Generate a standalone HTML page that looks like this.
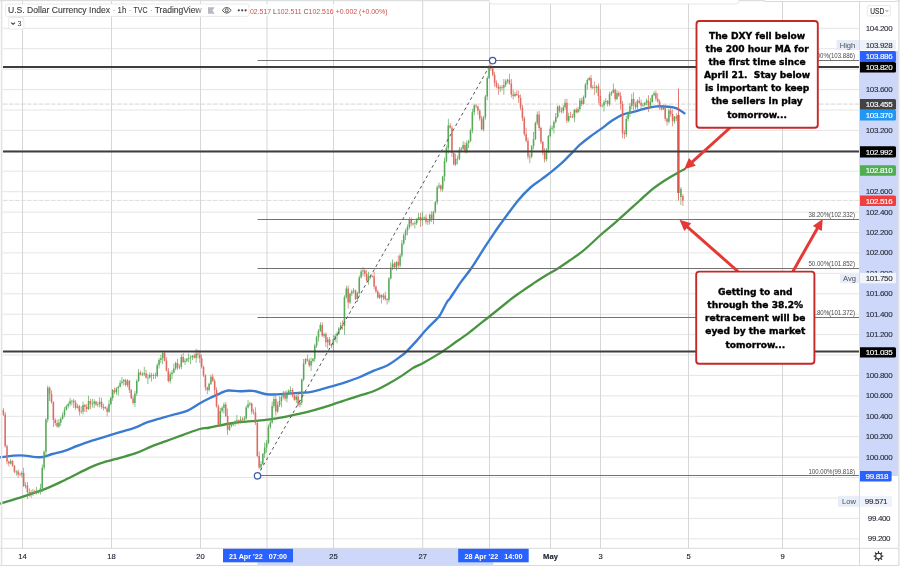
<!DOCTYPE html>
<html><head><meta charset="utf-8"><title>DXY</title>
<style>
html,body{margin:0;padding:0;background:#fff}
body{width:900px;height:569px;overflow:hidden;position:relative;font-family:"Liberation Sans",Arial,sans-serif}
svg{position:absolute;left:0;top:0}
.fl{font:7.2px "Liberation Sans",Arial,sans-serif;fill:#4a4a4a;text-anchor:end}
.an{font:bold 9.1px "DejaVu Sans",Verdana,sans-serif;fill:#000;stroke:#000;stroke-width:0.35px;text-anchor:middle}
.ax{font:8px "Liberation Sans",Arial,sans-serif;letter-spacing:-0.35px;fill:#1e222d;stroke:#1e222d;stroke-width:0.08px;text-anchor:middle}
.axw{font:8px "Liberation Sans",Arial,sans-serif;letter-spacing:-0.35px;fill:#fff;stroke:#fff;stroke-width:0.15px;text-anchor:middle}
.hl{font:7.6px "Liberation Sans",Arial,sans-serif;fill:#4a505c;text-anchor:middle}
.usd{font:8.6px "Liberation Sans",Arial,sans-serif;fill:#333;stroke:#333;stroke-width:0.15px;text-anchor:middle}
.tx{font:7.6px "Liberation Sans",Arial,sans-serif;fill:#1e222d;stroke:#1e222d;stroke-width:0.15px;text-anchor:middle}
.txw{font:bold 7.2px "Liberation Sans",Arial,sans-serif;fill:#fff;text-anchor:middle}
.ohlc{font:7.6px "Liberation Sans",Arial,sans-serif;fill:#cf4f4f}
.ttl{font:9.3px "Liberation Sans",Arial,sans-serif;fill:#3a3a3a;stroke:#3a3a3a;stroke-width:0.12px}
.sep{fill:#9a9a9a;stroke:none}
</style></head><body>
<svg width="900" height="569" viewBox="0 0 900 569">
<defs><linearGradient id="fade" x1="0" x2="1"><stop offset="0" stop-color="#fff" stop-opacity="0"/><stop offset="1" stop-color="#fff" stop-opacity="1"/></linearGradient></defs>
<path d="M3,28.3H860M3,48.7H860M3,69.1H860M3,89.6H860M3,110.0H860M3,130.4H860M3,150.8H860M3,171.2H860M3,191.7H860M3,212.1H860M3,232.5H860M3,252.9H860M3,273.3H860M3,293.8H860M3,314.2H860M3,334.6H860M3,355.0H860M3,375.4H860M3,395.9H860M3,416.3H860M3,436.7H860M3,457.1H860M3,477.5H860M3,498.0H860M3,518.4H860M3,538.8H860" stroke="#e5e5e5" stroke-width="1" fill="none"/>
<path d="M22.5,0V548M111.5,0V548M200.5,0V548M267,0V548M333.5,0V548M422.7,0V548M489.5,0V548M550.5,0V548M600.5,0V548M688.5,0V548M782.5,0V548" stroke="#d6d6d6" stroke-width="1" fill="none"/>
<path d="M3,104.1H860" stroke="#d6d6d6" stroke-width="1" stroke-dasharray="4.5,1.5"/>
<path d="M3,200.4H860" stroke="#dcdcdc" stroke-width="1" stroke-dasharray="4.5,1.5"/>
<path d="M0.0,457.3 C3.3,457.0 13.3,455.4 20.0,455.4 C26.7,455.4 34.6,457.5 40.0,457.3 C45.4,457.1 48.2,455.1 52.3,454.0 C56.4,452.9 60.5,452.1 64.6,450.8 C68.7,449.5 72.8,447.5 76.9,446.0 C81.0,444.5 85.1,443.0 89.2,441.6 C93.3,440.2 96.4,439.5 101.5,437.9 C106.6,436.3 114.3,433.9 120.0,432.2 C125.7,430.4 131.4,429.0 135.8,427.4 C140.2,425.8 141.9,424.3 146.3,422.7 C150.7,421.1 157.7,419.2 162.1,417.9 C166.5,416.6 168.6,415.9 172.7,414.8 C176.8,413.7 181.8,413.0 186.4,411.1 C191.0,409.2 196.1,405.4 200.0,403.2 C203.9,401.0 206.7,399.6 210.0,398.0 C213.3,396.4 217.0,394.8 220.0,393.5 C223.0,392.2 224.7,390.9 228.0,390.5 C231.3,390.1 235.9,391.2 240.0,391.3 C244.1,391.4 248.0,390.4 252.8,390.9 C257.6,391.4 262.8,394.1 269.0,394.5 C275.2,394.9 284.7,393.7 290.0,393.4 C295.3,393.1 297.2,393.1 301.0,392.8 C304.8,392.5 307.5,392.7 312.6,391.6 C317.7,390.5 325.8,388.1 331.6,386.4 C337.4,384.7 342.7,383.2 347.4,381.6 C352.1,380.0 355.6,378.8 360.0,377.0 C364.4,375.2 369.3,372.6 374.0,370.6 C378.7,368.6 383.4,367.6 388.1,365.0 C392.8,362.4 399.1,357.4 402.2,355.2 C405.2,353.0 404.0,354.0 406.4,351.6 C408.8,349.2 413.0,344.7 416.3,341.1 C419.6,337.5 422.8,333.4 426.1,329.8 C429.4,326.2 433.7,322.2 436.0,319.8 C438.3,317.4 438.2,318.2 440.0,315.2 C441.8,312.2 445.3,304.8 447.0,302.0 C448.7,299.2 447.8,301.6 450.0,298.4 C452.2,295.2 457.0,287.6 460.5,282.6 C464.0,277.6 467.0,274.5 471.1,268.5 C475.2,262.5 481.0,252.9 485.1,246.6 C489.2,240.3 492.5,235.5 495.7,230.8 C498.9,226.1 500.7,223.6 504.5,218.5 C508.3,213.4 514.2,205.2 518.5,200.0 C522.8,194.8 526.7,190.9 530.5,187.5 C534.3,184.1 537.6,182.2 541.1,179.6 C544.6,176.9 548.1,174.4 551.6,171.6 C555.1,168.8 558.7,165.9 562.2,162.7 C565.7,159.4 569.7,155.1 572.7,152.1 C575.7,149.1 577.1,147.3 580.0,144.7 C582.9,142.1 586.5,139.3 590.0,136.7 C593.5,134.1 597.4,131.6 601.1,128.9 C604.8,126.2 608.5,123.0 612.2,120.6 C615.9,118.2 619.6,115.9 623.3,114.4 C627.0,112.9 630.7,112.7 634.4,111.7 C638.1,110.7 641.9,109.2 645.6,108.3 C649.3,107.4 653.0,106.7 656.7,106.4 C660.4,106.1 664.5,106.4 667.8,106.7 C671.1,107.0 673.9,107.2 676.7,108.3 C679.5,109.4 683.1,112.5 684.4,113.3" stroke="#3a7bd2" stroke-width="2.4" fill="none" stroke-linecap="round"/>
<path d="M0.0,503.6 C3.8,502.4 15.3,499.1 23.0,496.6 C30.7,494.1 39.1,491.3 46.0,488.6 C52.9,485.9 57.4,483.6 64.6,480.2 C71.8,476.8 83.0,470.8 89.2,467.9 C95.4,465.0 96.4,464.7 101.5,463.0 C106.6,461.3 114.3,459.4 120.0,457.8 C125.7,456.2 130.5,455.1 135.8,453.2 C141.1,451.3 146.3,448.5 151.6,446.4 C156.9,444.3 162.1,442.5 167.4,440.6 C172.7,438.7 177.8,436.7 183.2,434.8 C188.6,432.9 195.5,430.2 200.0,429.0 C204.5,427.8 204.5,428.5 210.0,427.5 C215.5,426.5 225.3,424.1 232.9,423.0 C240.5,421.9 249.5,421.5 255.7,420.9 C261.9,420.3 265.1,420.0 270.0,419.3 C274.9,418.6 280.0,417.7 285.0,416.8 C290.0,415.9 295.0,414.9 300.0,413.7 C305.0,412.5 309.7,411.3 315.0,409.8 C320.3,408.3 326.9,406.3 331.6,404.8 C336.3,403.3 338.7,402.4 343.2,400.9 C347.7,399.4 353.6,397.4 358.7,395.8 C363.8,394.2 369.1,393.0 374.0,391.0 C378.9,389.0 383.3,386.6 388.0,384.0 C392.7,381.4 397.8,378.3 402.0,375.6 C406.2,372.9 409.8,369.9 413.4,367.8 C416.9,365.7 418.9,365.3 423.3,362.9 C427.7,360.4 434.9,356.4 440.0,353.1 C445.1,349.8 449.4,346.6 454.1,343.3 C458.8,340.0 463.4,336.9 468.1,333.4 C472.8,329.9 477.5,325.9 482.2,322.2 C486.9,318.5 491.6,314.8 496.3,311.0 C501.0,307.2 506.4,302.8 510.3,299.7 C514.2,296.6 516.3,295.2 520.0,292.6 C523.7,290.0 528.2,286.9 532.3,284.2 C536.4,281.5 540.3,278.9 544.6,276.2 C548.9,273.5 554.1,270.8 558.2,268.2 C562.3,265.6 565.3,263.5 569.2,260.8 C573.1,258.1 577.8,255.1 581.5,252.2 C585.2,249.3 588.3,246.3 591.4,243.5 C594.5,240.7 596.5,238.6 600.0,235.5 C603.5,232.4 608.0,228.9 612.3,225.2 C616.5,221.5 621.1,217.2 625.5,213.3 C629.9,209.4 634.3,205.4 638.7,201.5 C643.1,197.6 647.5,193.1 651.9,189.6 C656.3,186.1 660.7,183.2 665.1,180.3 C669.5,177.4 675.0,174.3 678.3,172.4 C681.6,170.5 683.8,169.6 684.9,169.0" stroke="#489440" stroke-width="2.3" fill="none" stroke-linecap="round"/>
<path d="M10.37,458.7h0.7V464.4h-0.7zM15.93,470.3h0.7V475.5h-0.7zM21.49,471.2h0.7V477.7h-0.7zM25.20,482.3h0.7V488.5h-0.7zM28.91,488.6h0.7V496.6h-0.7zM32.61,489.1h0.7V495.8h-0.7zM36.32,487.1h0.7V494.6h-0.7zM38.18,490.6h0.7V493.7h-0.7zM40.03,483.7h0.7V494.6h-0.7zM41.88,464.5h0.7V491.9h-0.7zM43.74,450.6h0.7V470.3h-0.7zM45.59,418.0h0.7V455.1h-0.7zM47.45,385.4h0.7V422.5h-0.7zM58.57,419.0h0.7V427.9h-0.7zM60.42,417.2h0.7V426.1h-0.7zM62.28,412.5h0.7V419.7h-0.7zM64.13,406.9h0.7V417.3h-0.7zM65.99,404.8h0.7V410.6h-0.7zM67.84,402.5h0.7V408.6h-0.7zM69.69,397.7h0.7V406.2h-0.7zM71.55,399.8h0.7V405.3h-0.7zM77.11,404.0h0.7V408.6h-0.7zM82.67,401.5h0.7V414.4h-0.7zM88.23,395.7h0.7V409.9h-0.7zM91.94,398.7h0.7V407.5h-0.7zM93.80,399.2h0.7V408.0h-0.7zM97.50,401.7h0.7V407.0h-0.7zM99.36,397.3h0.7V407.6h-0.7zM108.63,400.1h0.7V412.7h-0.7zM110.48,396.8h0.7V405.4h-0.7zM112.34,389.0h0.7V400.7h-0.7zM116.04,387.2h0.7V394.7h-0.7zM117.90,385.5h0.7V395.6h-0.7zM119.75,379.9h0.7V387.6h-0.7zM121.61,377.0h0.7V384.4h-0.7zM123.46,378.9h0.7V385.5h-0.7zM127.17,378.9h0.7V387.2h-0.7zM134.58,391.0h0.7V406.9h-0.7zM136.44,379.2h0.7V396.1h-0.7zM138.29,369.1h0.7V381.9h-0.7zM142.00,372.3h0.7V376.3h-0.7zM143.85,366.8h0.7V375.9h-0.7zM147.56,374.0h0.7V384.0h-0.7zM149.42,372.5h0.7V378.8h-0.7zM151.27,372.8h0.7V381.5h-0.7zM156.83,363.2h0.7V377.2h-0.7zM158.69,358.1h0.7V368.6h-0.7zM160.54,354.7h0.7V363.3h-0.7zM162.39,351.6h0.7V364.2h-0.7zM169.81,372.0h0.7V383.5h-0.7zM171.66,369.9h0.7V379.2h-0.7zM173.52,363.6h0.7V373.4h-0.7zM175.37,361.4h0.7V370.2h-0.7zM179.08,364.3h0.7V369.3h-0.7zM180.93,354.4h0.7V369.2h-0.7zM184.64,358.3h0.7V364.9h-0.7zM186.50,357.9h0.7V362.3h-0.7zM188.35,353.6h0.7V362.3h-0.7zM190.20,355.3h0.7V364.3h-0.7zM192.06,355.0h0.7V360.0h-0.7zM195.77,348.8h0.7V362.8h-0.7zM208.74,382.8h0.7V391.5h-0.7zM210.60,374.8h0.7V385.1h-0.7zM219.87,407.9h0.7V426.3h-0.7zM221.72,406.3h0.7V413.0h-0.7zM223.58,402.4h0.7V413.6h-0.7zM229.14,423.8h0.7V430.9h-0.7zM230.99,423.2h0.7V427.6h-0.7zM232.85,422.2h0.7V426.0h-0.7zM234.70,420.3h0.7V426.2h-0.7zM236.55,415.0h0.7V424.2h-0.7zM240.26,416.2h0.7V423.6h-0.7zM243.97,415.9h0.7V421.5h-0.7zM245.82,405.5h0.7V419.6h-0.7zM247.68,400.1h0.7V408.4h-0.7zM249.53,401.7h0.7V406.3h-0.7zM260.66,461.1h0.7V470.0h-0.7zM262.51,453.0h0.7V464.8h-0.7zM264.36,442.6h0.7V458.1h-0.7zM266.22,440.1h0.7V452.6h-0.7zM268.07,424.5h0.7V444.2h-0.7zM269.93,420.6h0.7V428.8h-0.7zM271.78,401.6h0.7V423.8h-0.7zM273.63,394.6h0.7V408.2h-0.7zM277.34,401.4h0.7V413.0h-0.7zM279.20,396.2h0.7V407.0h-0.7zM281.05,395.4h0.7V407.2h-0.7zM282.90,390.7h0.7V399.2h-0.7zM286.61,390.2h0.7V402.3h-0.7zM288.47,389.3h0.7V394.9h-0.7zM290.32,386.2h0.7V392.1h-0.7zM295.88,394.8h0.7V403.0h-0.7zM299.59,399.6h0.7V407.3h-0.7zM301.44,378.5h0.7V405.0h-0.7zM303.30,358.9h0.7V381.2h-0.7zM305.15,358.1h0.7V364.6h-0.7zM310.71,357.5h0.7V371.1h-0.7zM312.57,357.9h0.7V362.4h-0.7zM314.42,343.7h0.7V361.7h-0.7zM316.28,335.7h0.7V348.1h-0.7zM318.13,329.1h0.7V341.7h-0.7zM319.98,322.6h0.7V331.9h-0.7zM323.69,332.4h0.7V338.1h-0.7zM327.40,337.0h0.7V348.8h-0.7zM332.96,335.1h0.7V350.9h-0.7zM334.82,333.8h0.7V341.6h-0.7zM336.67,331.4h0.7V343.2h-0.7zM338.52,327.3h0.7V335.1h-0.7zM340.38,322.2h0.7V330.2h-0.7zM344.09,295.3h0.7V335.1h-0.7zM345.94,285.8h0.7V298.7h-0.7zM349.65,292.7h0.7V304.0h-0.7zM351.50,289.5h0.7V296.3h-0.7zM353.36,288.0h0.7V293.8h-0.7zM357.06,291.8h0.7V301.9h-0.7zM358.92,275.4h0.7V294.2h-0.7zM360.77,269.3h0.7V278.6h-0.7zM362.63,267.0h0.7V275.9h-0.7zM368.19,271.7h0.7V284.8h-0.7zM370.04,274.4h0.7V279.2h-0.7zM379.31,292.7h0.7V299.1h-0.7zM383.02,293.6h0.7V300.1h-0.7zM388.58,277.0h0.7V302.4h-0.7zM390.44,262.5h0.7V279.5h-0.7zM392.29,259.6h0.7V269.9h-0.7zM396.00,261.0h0.7V270.8h-0.7zM399.71,253.4h0.7V267.5h-0.7zM401.56,240.1h0.7V257.6h-0.7zM403.41,233.2h0.7V244.9h-0.7zM405.27,228.8h0.7V239.9h-0.7zM407.12,224.4h0.7V235.3h-0.7zM408.98,216.9h0.7V229.2h-0.7zM414.54,221.1h0.7V228.4h-0.7zM416.39,218.1h0.7V224.9h-0.7zM418.25,213.1h0.7V220.3h-0.7zM421.95,211.7h0.7V225.7h-0.7zM423.81,216.5h0.7V219.6h-0.7zM427.52,219.7h0.7V225.1h-0.7zM429.37,213.6h0.7V224.5h-0.7zM433.08,210.9h0.7V224.3h-0.7zM434.93,200.9h0.7V213.6h-0.7zM436.79,185.5h0.7V204.8h-0.7zM438.64,182.6h0.7V189.1h-0.7zM442.35,175.8h0.7V191.8h-0.7zM444.20,157.4h0.7V181.5h-0.7zM446.06,145.4h0.7V162.8h-0.7zM447.91,118.8h0.7V153.4h-0.7zM455.33,153.7h0.7V166.0h-0.7zM459.03,147.1h0.7V160.2h-0.7zM460.89,146.8h0.7V151.7h-0.7zM462.74,141.2h0.7V150.1h-0.7zM466.45,140.6h0.7V153.6h-0.7zM468.30,139.8h0.7V148.1h-0.7zM470.16,128.7h0.7V142.1h-0.7zM472.01,108.7h0.7V133.2h-0.7zM473.87,104.3h0.7V115.3h-0.7zM483.14,115.9h0.7V131.6h-0.7zM484.99,95.1h0.7V119.6h-0.7zM486.84,76.2h0.7V100.2h-0.7zM488.70,64.9h0.7V79.1h-0.7zM499.82,85.3h0.7V92.0h-0.7zM503.53,79.0h0.7V94.7h-0.7zM505.38,79.3h0.7V87.1h-0.7zM507.24,78.7h0.7V83.6h-0.7zM514.65,91.8h0.7V97.1h-0.7zM529.49,153.6h0.7V163.3h-0.7zM531.34,145.0h0.7V158.5h-0.7zM533.19,132.0h0.7V149.3h-0.7zM535.05,121.4h0.7V139.9h-0.7zM536.90,111.6h0.7V124.9h-0.7zM546.17,148.2h0.7V161.4h-0.7zM548.03,134.9h0.7V152.9h-0.7zM549.88,125.5h0.7V137.2h-0.7zM551.73,125.6h0.7V130.7h-0.7zM553.59,120.3h0.7V133.6h-0.7zM555.44,113.1h0.7V123.5h-0.7zM557.30,105.5h0.7V118.3h-0.7zM561.00,107.6h0.7V113.5h-0.7zM562.86,105.1h0.7V113.2h-0.7zM564.71,99.1h0.7V109.7h-0.7zM568.42,112.7h0.7V122.4h-0.7zM573.98,108.8h0.7V122.3h-0.7zM577.69,107.0h0.7V113.3h-0.7zM579.54,98.1h0.7V111.6h-0.7zM583.25,95.5h0.7V104.8h-0.7zM585.11,83.0h0.7V98.5h-0.7zM586.96,78.6h0.7V89.4h-0.7zM588.81,76.5h0.7V80.7h-0.7zM592.52,85.1h0.7V89.0h-0.7zM596.23,85.3h0.7V93.0h-0.7zM601.79,103.4h0.7V107.4h-0.7zM603.65,100.0h0.7V111.6h-0.7zM605.50,98.1h0.7V103.8h-0.7zM609.21,91.6h0.7V106.3h-0.7zM611.06,91.1h0.7V96.0h-0.7zM612.92,83.5h0.7V93.3h-0.7zM616.62,90.2h0.7V99.9h-0.7zM625.89,116.1h0.7V137.0h-0.7zM627.75,111.6h0.7V121.6h-0.7zM629.60,103.0h0.7V116.9h-0.7zM631.46,93.8h0.7V109.1h-0.7zM637.02,99.3h0.7V109.8h-0.7zM642.58,102.7h0.7V106.7h-0.7zM644.43,101.9h0.7V106.5h-0.7zM646.29,98.8h0.7V105.2h-0.7zM650.00,98.1h0.7V108.4h-0.7zM651.85,94.3h0.7V102.9h-0.7zM653.70,91.2h0.7V96.3h-0.7zM662.97,104.4h0.7V110.1h-0.7zM668.54,108.4h0.7V123.5h-0.7zM674.10,116.0h0.7V123.4h-0.7zM680.55,187.0h0.7V205.0h-0.7zM9.92,461.0h1.6V463.6h-1.6zM15.48,471.5h1.6V472.3h-1.6zM21.04,473.0h1.6V474.5h-1.6zM24.75,485.4h1.6V486.2h-1.6zM28.46,491.9h1.6V492.7h-1.6zM32.16,491.7h1.6V493.8h-1.6zM35.87,491.5h1.6V492.3h-1.6zM37.73,491.5h1.6V492.3h-1.6zM39.58,488.5h1.6V491.5h-1.6zM41.43,467.8h1.6V488.5h-1.6zM43.29,451.7h1.6V467.8h-1.6zM45.14,419.5h1.6V451.7h-1.6zM47.00,387.7h1.6V419.5h-1.6zM58.12,422.6h1.6V426.6h-1.6zM59.97,418.8h1.6V422.6h-1.6zM61.83,415.2h1.6V418.8h-1.6zM63.68,409.7h1.6V415.2h-1.6zM65.54,406.1h1.6V409.7h-1.6zM67.39,403.9h1.6V406.1h-1.6zM69.24,401.0h1.6V403.9h-1.6zM71.10,400.7h1.6V401.5h-1.6zM76.66,406.2h1.6V407.7h-1.6zM82.22,404.9h1.6V411.5h-1.6zM87.78,401.0h1.6V409.0h-1.6zM91.49,403.8h1.6V404.6h-1.6zM93.35,401.5h1.6V403.8h-1.6zM97.05,404.0h1.6V404.8h-1.6zM98.91,401.7h1.6V404.0h-1.6zM108.18,403.9h1.6V411.8h-1.6zM110.03,398.0h1.6V403.9h-1.6zM111.89,390.0h1.6V398.0h-1.6zM115.59,388.3h1.6V392.3h-1.6zM117.45,386.8h1.6V388.3h-1.6zM119.30,383.1h1.6V386.8h-1.6zM121.16,381.4h1.6V383.1h-1.6zM123.01,380.1h1.6V381.4h-1.6zM126.72,380.8h1.6V384.9h-1.6zM134.13,393.5h1.6V402.9h-1.6zM135.99,380.9h1.6V393.5h-1.6zM137.84,372.6h1.6V380.9h-1.6zM141.55,374.3h1.6V375.1h-1.6zM143.40,373.2h1.6V374.3h-1.6zM147.11,377.4h1.6V378.2h-1.6zM148.97,375.1h1.6V377.4h-1.6zM150.82,375.0h1.6V375.8h-1.6zM156.38,365.2h1.6V376.0h-1.6zM158.24,360.1h1.6V365.2h-1.6zM160.09,358.3h1.6V360.1h-1.6zM161.94,353.0h1.6V358.3h-1.6zM169.36,374.2h1.6V381.0h-1.6zM171.21,372.5h1.6V374.2h-1.6zM173.07,368.4h1.6V372.5h-1.6zM174.92,362.9h1.6V368.4h-1.6zM178.63,366.7h1.6V367.5h-1.6zM180.48,356.9h1.6V366.7h-1.6zM184.19,360.7h1.6V362.1h-1.6zM186.05,358.8h1.6V360.7h-1.6zM187.90,358.0h1.6V358.8h-1.6zM189.75,357.3h1.6V358.1h-1.6zM191.61,355.8h1.6V357.3h-1.6zM195.32,353.8h1.6V357.7h-1.6zM208.29,383.8h1.6V390.0h-1.6zM210.15,376.8h1.6V383.8h-1.6zM219.42,411.0h1.6V424.6h-1.6zM221.27,407.8h1.6V411.0h-1.6zM223.13,404.5h1.6V407.8h-1.6zM228.69,425.8h1.6V429.7h-1.6zM230.54,424.3h1.6V425.8h-1.6zM232.40,423.6h1.6V424.4h-1.6zM234.25,421.3h1.6V423.6h-1.6zM236.10,420.3h1.6V421.3h-1.6zM239.81,419.5h1.6V421.3h-1.6zM243.52,418.5h1.6V420.0h-1.6zM245.37,407.5h1.6V418.5h-1.6zM247.23,404.3h1.6V407.5h-1.6zM249.08,403.6h1.6V404.4h-1.6zM260.21,464.0h1.6V467.5h-1.6zM262.06,453.8h1.6V464.0h-1.6zM263.91,447.6h1.6V453.8h-1.6zM265.77,443.1h1.6V447.6h-1.6zM267.62,427.1h1.6V443.1h-1.6zM269.48,422.5h1.6V427.1h-1.6zM271.33,406.0h1.6V422.5h-1.6zM273.18,398.9h1.6V406.0h-1.6zM276.89,405.1h1.6V411.4h-1.6zM278.75,401.0h1.6V405.1h-1.6zM280.60,396.8h1.6V401.0h-1.6zM282.45,392.8h1.6V396.8h-1.6zM286.16,393.5h1.6V398.6h-1.6zM288.02,390.8h1.6V393.5h-1.6zM289.87,390.1h1.6V390.9h-1.6zM295.43,396.5h1.6V399.7h-1.6zM299.14,402.4h1.6V404.7h-1.6zM300.99,379.5h1.6V402.4h-1.6zM302.85,363.4h1.6V379.5h-1.6zM304.70,359.1h1.6V363.4h-1.6zM310.26,361.0h1.6V365.6h-1.6zM312.12,358.8h1.6V361.0h-1.6zM313.97,345.8h1.6V358.8h-1.6zM315.83,337.2h1.6V345.8h-1.6zM317.68,331.0h1.6V337.2h-1.6zM319.53,325.0h1.6V331.0h-1.6zM323.24,333.9h1.6V335.8h-1.6zM326.95,339.5h1.6V342.3h-1.6zM332.51,338.9h1.6V345.1h-1.6zM334.37,336.1h1.6V338.9h-1.6zM336.22,333.7h1.6V336.1h-1.6zM338.07,328.6h1.6V333.7h-1.6zM339.93,325.2h1.6V328.6h-1.6zM343.64,297.0h1.6V326.0h-1.6zM345.49,288.5h1.6V297.0h-1.6zM349.20,293.5h1.6V302.6h-1.6zM351.05,291.5h1.6V293.5h-1.6zM352.91,290.4h1.6V291.5h-1.6zM356.61,293.0h1.6V298.9h-1.6zM358.47,277.4h1.6V293.0h-1.6zM360.32,271.6h1.6V277.4h-1.6zM362.18,270.6h1.6V271.6h-1.6zM367.74,276.2h1.6V280.2h-1.6zM369.59,276.0h1.6V276.8h-1.6zM378.86,295.1h1.6V297.5h-1.6zM382.57,295.4h1.6V297.6h-1.6zM388.13,278.6h1.6V299.8h-1.6zM389.99,267.4h1.6V278.6h-1.6zM391.84,263.4h1.6V267.4h-1.6zM395.55,262.1h1.6V267.3h-1.6zM399.26,255.6h1.6V265.5h-1.6zM401.11,243.4h1.6V255.6h-1.6zM402.96,235.4h1.6V243.4h-1.6zM404.82,230.8h1.6V235.4h-1.6zM406.67,227.1h1.6V230.8h-1.6zM408.53,219.4h1.6V227.1h-1.6zM414.09,223.2h1.6V224.0h-1.6zM415.94,218.9h1.6V223.2h-1.6zM417.80,216.9h1.6V218.9h-1.6zM421.50,217.8h1.6V220.2h-1.6zM423.36,217.4h1.6V218.2h-1.6zM427.07,221.2h1.6V222.0h-1.6zM428.92,214.7h1.6V221.2h-1.6zM432.63,211.8h1.6V218.9h-1.6zM434.48,202.3h1.6V211.8h-1.6zM436.34,187.3h1.6V202.3h-1.6zM438.19,185.6h1.6V187.3h-1.6zM441.90,176.6h1.6V189.2h-1.6zM443.75,161.0h1.6V176.6h-1.6zM445.61,148.0h1.6V161.0h-1.6zM447.46,125.6h1.6V148.0h-1.6zM454.88,158.8h1.6V164.5h-1.6zM458.58,149.8h1.6V158.9h-1.6zM460.44,148.8h1.6V149.8h-1.6zM462.29,145.1h1.6V148.8h-1.6zM466.00,143.2h1.6V150.9h-1.6zM467.85,140.9h1.6V143.2h-1.6zM469.71,130.5h1.6V140.9h-1.6zM471.56,112.3h1.6V130.5h-1.6zM473.42,105.5h1.6V112.3h-1.6zM482.69,117.3h1.6V129.4h-1.6zM484.54,96.5h1.6V117.3h-1.6zM486.39,77.9h1.6V96.5h-1.6zM488.25,66.7h1.6V77.9h-1.6zM499.37,87.2h1.6V88.4h-1.6zM503.08,85.1h1.6V87.8h-1.6zM504.93,81.2h1.6V85.1h-1.6zM506.79,79.7h1.6V81.2h-1.6zM514.20,94.0h1.6V95.9h-1.6zM529.04,156.5h1.6V157.3h-1.6zM530.89,146.2h1.6V156.5h-1.6zM532.74,139.0h1.6V146.2h-1.6zM534.60,123.0h1.6V139.0h-1.6zM536.45,114.5h1.6V123.0h-1.6zM545.72,149.8h1.6V159.2h-1.6zM547.58,136.1h1.6V149.8h-1.6zM549.43,128.7h1.6V136.1h-1.6zM551.28,127.7h1.6V128.7h-1.6zM553.14,121.9h1.6V127.7h-1.6zM554.99,116.9h1.6V121.9h-1.6zM556.85,106.4h1.6V116.9h-1.6zM560.55,110.9h1.6V111.7h-1.6zM562.41,107.3h1.6V110.9h-1.6zM564.26,102.7h1.6V107.3h-1.6zM567.97,115.9h1.6V120.8h-1.6zM573.53,110.0h1.6V117.3h-1.6zM577.24,109.0h1.6V112.3h-1.6zM579.09,100.6h1.6V109.0h-1.6zM582.80,97.0h1.6V104.0h-1.6zM584.66,84.5h1.6V97.0h-1.6zM586.51,79.9h1.6V84.5h-1.6zM588.36,78.1h1.6V79.9h-1.6zM592.07,87.2h1.6V88.0h-1.6zM595.78,86.6h1.6V87.8h-1.6zM601.34,105.5h1.6V106.3h-1.6zM603.20,102.1h1.6V105.5h-1.6zM605.05,100.9h1.6V102.1h-1.6zM608.76,93.9h1.6V104.3h-1.6zM610.61,92.4h1.6V93.9h-1.6zM612.47,89.7h1.6V92.4h-1.6zM616.17,93.1h1.6V99.0h-1.6zM625.44,119.1h1.6V134.2h-1.6zM627.30,113.9h1.6V119.1h-1.6zM629.15,105.9h1.6V113.9h-1.6zM631.01,98.9h1.6V105.9h-1.6zM636.57,100.7h1.6V107.2h-1.6zM642.13,104.9h1.6V105.7h-1.6zM643.98,102.7h1.6V104.9h-1.6zM645.84,100.4h1.6V102.7h-1.6zM649.55,101.9h1.6V105.8h-1.6zM651.40,95.2h1.6V101.9h-1.6zM653.25,93.3h1.6V95.2h-1.6zM662.52,107.4h1.6V109.3h-1.6zM668.09,110.6h1.6V121.8h-1.6zM673.65,116.8h1.6V121.3h-1.6zM680.10,189.0h1.6V197.0h-1.6z" fill="#58a958"/>
<path d="M2.95,408.1h0.7V416.1h-0.7zM4.80,412.1h0.7V447.5h-0.7zM6.66,444.6h0.7V464.2h-0.7zM8.51,460.6h0.7V466.4h-0.7zM12.22,460.0h0.7V466.8h-0.7zM14.07,464.9h0.7V473.0h-0.7zM17.78,469.6h0.7V477.7h-0.7zM19.64,472.6h0.7V475.8h-0.7zM23.34,467.7h0.7V486.9h-0.7zM27.05,482.0h0.7V499.1h-0.7zM30.76,490.1h0.7V497.8h-0.7zM34.47,489.7h0.7V493.3h-0.7zM49.30,386.4h0.7V401.0h-0.7zM51.15,390.3h0.7V403.6h-0.7zM53.01,401.3h0.7V426.9h-0.7zM54.86,418.2h0.7V425.8h-0.7zM56.72,419.7h0.7V427.4h-0.7zM73.40,398.8h0.7V408.0h-0.7zM75.26,399.9h0.7V409.8h-0.7zM78.96,404.8h0.7V415.6h-0.7zM80.82,406.3h0.7V413.5h-0.7zM84.53,403.7h0.7V412.0h-0.7zM86.38,404.1h0.7V412.0h-0.7zM90.09,398.7h0.7V409.1h-0.7zM95.65,400.7h0.7V405.9h-0.7zM101.21,397.7h0.7V409.1h-0.7zM103.07,403.8h0.7V410.5h-0.7zM104.92,406.2h0.7V409.3h-0.7zM106.77,406.5h0.7V416.4h-0.7zM114.19,387.5h0.7V394.0h-0.7zM125.31,378.7h0.7V386.5h-0.7zM129.02,379.9h0.7V392.9h-0.7zM130.88,388.9h0.7V399.1h-0.7zM132.73,395.6h0.7V404.4h-0.7zM140.15,370.6h0.7V375.6h-0.7zM145.71,369.7h0.7V378.6h-0.7zM153.12,373.4h0.7V379.0h-0.7zM154.98,372.5h0.7V379.0h-0.7zM164.25,351.7h0.7V361.4h-0.7zM166.10,357.0h0.7V371.6h-0.7zM167.96,368.0h0.7V382.4h-0.7zM177.23,358.7h0.7V369.9h-0.7zM182.79,352.9h0.7V362.9h-0.7zM193.91,353.4h0.7V358.6h-0.7zM197.62,349.7h0.7V358.4h-0.7zM199.47,350.3h0.7V362.9h-0.7zM201.33,354.6h0.7V368.6h-0.7zM203.18,365.7h0.7V376.9h-0.7zM205.04,374.3h0.7V390.8h-0.7zM206.89,386.6h0.7V394.2h-0.7zM212.45,373.8h0.7V381.9h-0.7zM214.31,378.8h0.7V394.5h-0.7zM216.16,387.3h0.7V407.5h-0.7zM218.01,404.5h0.7V427.1h-0.7zM225.43,402.0h0.7V416.9h-0.7zM227.28,408.6h0.7V435.0h-0.7zM238.41,419.5h0.7V424.5h-0.7zM242.12,417.1h0.7V422.3h-0.7zM251.39,402.6h0.7V414.3h-0.7zM253.24,408.8h0.7V414.8h-0.7zM255.09,407.2h0.7V425.1h-0.7zM256.95,421.8h0.7V457.3h-0.7zM258.80,451.6h0.7V469.1h-0.7zM275.49,395.7h0.7V415.5h-0.7zM284.76,390.7h0.7V400.8h-0.7zM292.17,388.0h0.7V397.5h-0.7zM294.03,394.5h0.7V400.7h-0.7zM297.74,392.3h0.7V406.4h-0.7zM307.01,354.7h0.7V361.4h-0.7zM308.86,358.2h0.7V367.3h-0.7zM321.84,322.2h0.7V337.0h-0.7zM325.55,332.4h0.7V347.1h-0.7zM329.25,337.1h0.7V345.8h-0.7zM331.11,343.8h0.7V348.3h-0.7zM342.23,320.4h0.7V329.8h-0.7zM347.79,285.5h0.7V308.6h-0.7zM355.21,289.5h0.7V299.9h-0.7zM364.48,268.7h0.7V276.8h-0.7zM366.33,270.3h0.7V281.8h-0.7zM371.90,274.7h0.7V277.4h-0.7zM373.75,271.7h0.7V289.6h-0.7zM375.60,285.6h0.7V293.0h-0.7zM377.46,289.8h0.7V298.4h-0.7zM381.17,294.2h0.7V303.6h-0.7zM384.87,291.4h0.7V300.8h-0.7zM386.73,298.0h0.7V304.4h-0.7zM394.14,262.1h0.7V268.3h-0.7zM397.85,255.6h0.7V267.9h-0.7zM410.83,217.6h0.7V226.5h-0.7zM412.68,222.6h0.7V225.6h-0.7zM420.10,213.0h0.7V226.9h-0.7zM425.66,214.3h0.7V224.2h-0.7zM431.22,211.2h0.7V222.1h-0.7zM440.49,184.6h0.7V191.6h-0.7zM449.76,123.1h0.7V128.7h-0.7zM451.62,125.7h0.7V156.9h-0.7zM453.47,151.0h0.7V165.3h-0.7zM457.18,155.2h0.7V164.2h-0.7zM464.60,142.2h0.7V152.7h-0.7zM475.72,103.7h0.7V108.4h-0.7zM477.57,105.5h0.7V114.8h-0.7zM479.43,109.0h0.7V120.8h-0.7zM481.28,115.7h0.7V130.3h-0.7zM490.55,63.5h0.7V71.1h-0.7zM492.41,67.0h0.7V76.3h-0.7zM494.26,72.0h0.7V86.7h-0.7zM496.11,80.3h0.7V88.3h-0.7zM497.97,83.6h0.7V94.7h-0.7zM501.68,84.9h0.7V90.5h-0.7zM509.09,73.7h0.7V84.7h-0.7zM510.95,79.0h0.7V97.4h-0.7zM512.80,89.6h0.7V99.5h-0.7zM516.51,90.2h0.7V96.0h-0.7zM518.36,90.7h0.7V102.9h-0.7zM520.22,94.4h0.7V110.3h-0.7zM522.07,104.9h0.7V121.1h-0.7zM523.92,116.2h0.7V136.3h-0.7zM525.78,127.7h0.7V142.2h-0.7zM527.63,137.7h0.7V159.2h-0.7zM538.76,111.0h0.7V130.7h-0.7zM540.61,126.6h0.7V144.1h-0.7zM542.46,140.9h0.7V155.2h-0.7zM544.32,148.1h0.7V162.6h-0.7zM559.15,104.9h0.7V112.8h-0.7zM566.57,98.8h0.7V123.1h-0.7zM570.27,111.8h0.7V118.0h-0.7zM572.13,114.1h0.7V118.2h-0.7zM575.84,107.7h0.7V113.5h-0.7zM581.40,97.7h0.7V106.2h-0.7zM590.67,74.9h0.7V88.7h-0.7zM594.38,81.4h0.7V94.9h-0.7zM598.08,83.5h0.7V103.3h-0.7zM599.94,89.3h0.7V106.9h-0.7zM607.35,100.1h0.7V106.6h-0.7zM614.77,88.4h0.7V101.6h-0.7zM618.48,90.9h0.7V96.9h-0.7zM620.33,91.9h0.7V109.5h-0.7zM622.19,100.9h0.7V138.3h-0.7zM624.04,130.0h0.7V138.7h-0.7zM633.31,92.2h0.7V110.0h-0.7zM635.16,102.1h0.7V109.7h-0.7zM638.87,96.8h0.7V103.8h-0.7zM640.73,99.4h0.7V109.4h-0.7zM648.14,95.2h0.7V111.9h-0.7zM655.56,90.6h0.7V101.3h-0.7zM657.41,92.9h0.7V102.8h-0.7zM659.27,99.6h0.7V109.8h-0.7zM661.12,106.7h0.7V110.5h-0.7zM664.83,104.8h0.7V121.0h-0.7zM666.68,117.5h0.7V125.8h-0.7zM670.39,107.8h0.7V116.7h-0.7zM672.24,109.4h0.7V126.3h-0.7zM675.95,113.2h0.7V121.3h-0.7zM682.55,194.0h0.7V206.0h-0.7zM2.50,410.0h1.6V414.4h-1.6zM4.35,414.4h1.6V446.2h-1.6zM6.21,446.2h1.6V461.5h-1.6zM8.06,461.5h1.6V463.6h-1.6zM11.77,461.0h1.6V465.7h-1.6zM13.62,465.7h1.6V471.7h-1.6zM17.33,471.5h1.6V474.4h-1.6zM19.19,474.4h1.6V475.2h-1.6zM22.89,473.0h1.6V486.0h-1.6zM26.60,485.4h1.6V492.0h-1.6zM30.31,491.9h1.6V493.8h-1.6zM34.02,491.7h1.6V492.5h-1.6zM48.85,387.7h1.6V394.1h-1.6zM50.70,394.1h1.6V402.3h-1.6zM52.56,402.3h1.6V419.9h-1.6zM54.41,419.9h1.6V422.9h-1.6zM56.27,422.9h1.6V426.6h-1.6zM72.95,400.7h1.6V402.4h-1.6zM74.81,402.4h1.6V407.7h-1.6zM78.51,406.2h1.6V411.4h-1.6zM80.37,411.4h1.6V412.2h-1.6zM84.08,404.9h1.6V406.8h-1.6zM85.93,406.8h1.6V409.0h-1.6zM89.64,401.0h1.6V404.1h-1.6zM95.20,401.5h1.6V404.5h-1.6zM100.76,401.7h1.6V407.1h-1.6zM102.62,407.1h1.6V407.9h-1.6zM104.47,407.2h1.6V408.5h-1.6zM106.32,408.5h1.6V411.8h-1.6zM113.74,390.0h1.6V392.3h-1.6zM124.86,380.1h1.6V384.9h-1.6zM128.57,380.8h1.6V390.1h-1.6zM130.43,390.1h1.6V398.2h-1.6zM132.28,398.2h1.6V402.9h-1.6zM139.70,372.6h1.6V374.5h-1.6zM145.26,373.2h1.6V377.5h-1.6zM152.67,375.0h1.6V375.8h-1.6zM154.53,375.2h1.6V376.0h-1.6zM163.80,353.0h1.6V360.6h-1.6zM165.65,360.6h1.6V370.7h-1.6zM167.51,370.7h1.6V381.0h-1.6zM176.78,362.9h1.6V367.4h-1.6zM182.34,356.9h1.6V362.1h-1.6zM193.46,355.8h1.6V357.7h-1.6zM197.17,353.8h1.6V354.7h-1.6zM199.02,354.7h1.6V358.3h-1.6zM200.88,358.3h1.6V366.7h-1.6zM202.73,366.7h1.6V375.4h-1.6zM204.59,375.4h1.6V387.4h-1.6zM206.44,387.4h1.6V390.0h-1.6zM212.00,376.8h1.6V380.7h-1.6zM213.86,380.7h1.6V390.0h-1.6zM215.71,390.0h1.6V406.4h-1.6zM217.56,406.4h1.6V424.6h-1.6zM224.98,404.5h1.6V416.1h-1.6zM226.83,416.1h1.6V429.7h-1.6zM237.96,420.3h1.6V421.3h-1.6zM241.67,419.5h1.6V420.3h-1.6zM250.94,403.6h1.6V411.7h-1.6zM252.79,411.7h1.6V412.5h-1.6zM254.64,412.4h1.6V422.9h-1.6zM256.50,422.9h1.6V456.1h-1.6zM258.35,456.1h1.6V467.5h-1.6zM275.04,398.9h1.6V411.4h-1.6zM284.31,392.8h1.6V398.6h-1.6zM291.72,390.1h1.6V395.6h-1.6zM293.58,395.6h1.6V399.7h-1.6zM297.29,396.5h1.6V404.7h-1.6zM306.56,359.1h1.6V360.6h-1.6zM308.41,360.6h1.6V365.6h-1.6zM321.39,325.0h1.6V335.8h-1.6zM325.10,333.9h1.6V342.3h-1.6zM328.80,339.5h1.6V345.0h-1.6zM330.66,345.0h1.6V345.8h-1.6zM341.78,325.2h1.6V326.0h-1.6zM347.34,288.5h1.6V302.6h-1.6zM354.76,290.4h1.6V298.9h-1.6zM364.03,270.6h1.6V273.7h-1.6zM365.88,273.7h1.6V280.2h-1.6zM371.45,276.0h1.6V276.8h-1.6zM373.30,276.3h1.6V286.5h-1.6zM375.15,286.5h1.6V291.5h-1.6zM377.01,291.5h1.6V297.5h-1.6zM380.72,295.1h1.6V297.6h-1.6zM384.42,295.4h1.6V299.1h-1.6zM386.28,299.1h1.6V299.9h-1.6zM393.69,263.4h1.6V267.3h-1.6zM397.40,262.1h1.6V265.5h-1.6zM410.38,219.4h1.6V223.6h-1.6zM412.23,223.6h1.6V224.4h-1.6zM419.65,216.9h1.6V220.2h-1.6zM425.21,217.4h1.6V221.8h-1.6zM430.77,214.7h1.6V218.9h-1.6zM440.04,185.6h1.6V189.2h-1.6zM449.31,125.6h1.6V127.8h-1.6zM451.17,127.8h1.6V152.9h-1.6zM453.02,152.9h1.6V164.5h-1.6zM456.73,158.8h1.6V159.6h-1.6zM464.15,145.1h1.6V150.9h-1.6zM475.27,105.5h1.6V106.4h-1.6zM477.12,106.4h1.6V110.7h-1.6zM478.98,110.7h1.6V118.7h-1.6zM480.83,118.7h1.6V129.4h-1.6zM490.10,66.7h1.6V68.5h-1.6zM491.96,68.5h1.6V74.7h-1.6zM493.81,74.7h1.6V82.7h-1.6zM495.66,82.7h1.6V86.5h-1.6zM497.52,86.5h1.6V88.4h-1.6zM501.23,87.2h1.6V88.0h-1.6zM508.64,79.7h1.6V83.8h-1.6zM510.50,83.8h1.6V94.5h-1.6zM512.35,94.5h1.6V95.9h-1.6zM516.06,94.0h1.6V94.9h-1.6zM517.91,94.9h1.6V98.1h-1.6zM519.77,98.1h1.6V107.7h-1.6zM521.62,107.7h1.6V118.2h-1.6zM523.47,118.2h1.6V134.0h-1.6zM525.33,134.0h1.6V140.7h-1.6zM527.18,140.7h1.6V156.6h-1.6zM538.31,114.5h1.6V128.0h-1.6zM540.16,128.0h1.6V142.0h-1.6zM542.01,142.0h1.6V152.8h-1.6zM543.87,152.8h1.6V159.2h-1.6zM558.70,106.4h1.6V111.0h-1.6zM566.12,102.7h1.6V120.8h-1.6zM569.82,115.9h1.6V116.7h-1.6zM571.68,116.7h1.6V117.5h-1.6zM575.39,110.0h1.6V112.3h-1.6zM580.95,100.6h1.6V104.0h-1.6zM590.22,78.1h1.6V87.8h-1.6zM593.93,87.2h1.6V88.0h-1.6zM597.63,86.6h1.6V96.1h-1.6zM599.49,96.1h1.6V105.8h-1.6zM606.90,100.9h1.6V104.3h-1.6zM614.32,89.7h1.6V99.0h-1.6zM618.03,93.1h1.6V95.7h-1.6zM619.88,95.7h1.6V103.9h-1.6zM621.74,103.9h1.6V132.9h-1.6zM623.59,132.9h1.6V134.2h-1.6zM632.86,98.9h1.6V104.6h-1.6zM634.71,104.6h1.6V107.2h-1.6zM638.42,100.7h1.6V102.8h-1.6zM640.28,102.8h1.6V105.4h-1.6zM647.69,100.4h1.6V105.8h-1.6zM655.11,93.3h1.6V98.8h-1.6zM656.96,98.8h1.6V101.6h-1.6zM658.82,101.6h1.6V107.8h-1.6zM660.67,107.8h1.6V109.3h-1.6zM664.38,107.4h1.6V118.8h-1.6zM666.23,118.8h1.6V121.8h-1.6zM669.94,110.6h1.6V113.9h-1.6zM671.79,113.9h1.6V121.3h-1.6zM675.50,116.8h1.6V118.5h-1.6zM682.10,196.0h1.6V200.4h-1.6z" fill="#de6a62"/>
<path d="M678,88.5h0.8V200.5h-0.8z M677.2,115h2.4V193h-2.4z" fill="#d9534f"/>
<path d="M257.5,60.5H860M257.5,219.5H860M257.5,268.5H860M257.5,317.5H860M257.5,475.5H860" stroke="#727272" stroke-width="1" fill="none"/>
<text x="855" y="58.2" class="fl" textLength="43.4" lengthAdjust="spacingAndGlyphs">0.00%(103.886)</text>
<text x="855" y="216.8" class="fl" textLength="46.5" lengthAdjust="spacingAndGlyphs">38.20%(102.332)</text>
<text x="855" y="265.8" class="fl" textLength="46.5" lengthAdjust="spacingAndGlyphs">50.00%(101.852)</text>
<text x="855" y="314.8" class="fl" textLength="46.5" lengthAdjust="spacingAndGlyphs">61.80%(101.372)</text>
<text x="855" y="473.5" class="fl" textLength="46.5" lengthAdjust="spacingAndGlyphs">100.00%(99.818)</text>
<path d="M3,67.1H860M3,151.6H860M3,351.4H860" stroke="#3d3d3d" stroke-width="2" fill="none"/>
<path d="M257.5,475.7L492.6,60.6" stroke="#555" stroke-width="1" stroke-dasharray="3,3" fill="none"/>
<circle cx="257.5" cy="475.8" r="3.2" fill="#fff" stroke="#3a5ba8" stroke-width="1.3"/>
<circle cx="492.6" cy="60.6" r="3.2" fill="#fff" stroke="#3a5ba8" stroke-width="1.3"/>
<path d="M730.3,127.5L690.9,163.2" stroke="#e53935" stroke-width="3" fill="none"/>
<path d="M684.2,169.2L688.9,158.0L695.8,165.7z" fill="#e53935"/>
<path d="M738,271.5L686.2,225.8" stroke="#e53935" stroke-width="3" fill="none"/>
<path d="M679.5,219.8L691.2,223.2L684.3,231.0z" fill="#e53935"/>
<path d="M792.9,271.5L818.3,226.7" stroke="#e53935" stroke-width="3" fill="none"/>
<path d="M822.7,218.9L821.8,231.0L812.8,225.9z" fill="#e53935"/>
<rect x="696.5" y="21" width="121.29999999999995" height="106.7" rx="3" fill="#fff" stroke="#c62828" stroke-width="1.9"/>
<text x="757.1" y="38.9" class="an">The DXY fell below</text>
<text x="757.1" y="52.0" class="an">the 200 hour MA for</text>
<text x="757.1" y="65.1" class="an">the first time since</text>
<text x="757.1" y="78.2" class="an">April 21.&#160; Stay below</text>
<text x="757.1" y="91.3" class="an">is important to keep</text>
<text x="757.1" y="104.4" class="an">the sellers in play</text>
<text x="757.1" y="117.5" class="an">tomorrow...</text>
<rect x="696.2" y="271.6" width="118.19999999999993" height="92.19999999999999" rx="3" fill="#fff" stroke="#c62828" stroke-width="1.9"/>
<text x="755.3" y="295.1" class="an">Getting to and</text>
<text x="755.3" y="308.2" class="an">through the 38.2%</text>
<text x="755.3" y="321.3" class="an">retracement will be</text>
<text x="755.3" y="334.4" class="an">eyed by the market</text>
<text x="755.3" y="347.5" class="an">tomorrow...</text>
<rect x="860" y="0" width="40" height="548" fill="#fff"/>
<rect x="860" y="51" width="38.5" height="425" fill="#ccd7f9"/>
<text x="879" y="30.7" class="ax">104.200</text>
<text x="879" y="92.0" class="ax">103.600</text>
<text x="879" y="132.8" class="ax">103.200</text>
<text x="879" y="194.1" class="ax">102.600</text>
<text x="879" y="214.5" class="ax">102.400</text>
<text x="879" y="234.9" class="ax">102.200</text>
<text x="879" y="255.3" class="ax">102.000</text>
<text x="879" y="275.7" class="ax">101.800</text>
<text x="879" y="296.2" class="ax">101.600</text>
<text x="879" y="316.6" class="ax">101.400</text>
<text x="879" y="337.0" class="ax">101.200</text>
<text x="879" y="377.8" class="ax">100.800</text>
<text x="879" y="398.3" class="ax">100.600</text>
<text x="879" y="418.7" class="ax">100.400</text>
<text x="879" y="439.1" class="ax">100.200</text>
<text x="879" y="459.5" class="ax">100.000</text>
<text x="879" y="520.8" class="ax">99.400</text>
<text x="879" y="541.2" class="ax">99.200</text>
<rect x="836.6" y="40" width="23.4" height="10" fill="#e6ecf7"/><rect x="860" y="40" width="36" height="10" fill="#eef2fa"/>
<rect x="840" y="272.8" width="20" height="10.5" fill="#e8eef8"/><rect x="860" y="272.8" width="36" height="10.5" fill="#f1f4fb"/>
<rect x="838" y="495.8" width="22" height="11" fill="#e8eef8"/><rect x="860" y="495.8" width="32" height="11" fill="#eef2fa"/>
<text x="847.5" y="47.8" class="hl">High</text><text x="849.5" y="280.6" class="hl">Avg</text><text x="849" y="503.8" class="hl">Low</text>
<text x="879" y="47.8" class="ax">103.928</text>
<text x="879" y="280.8" class="ax">101.750</text>
<text x="876" y="504.0" class="ax">99.571</text>
<path d="M860,51H894.5q1.5,0 1.5,1.5V60.5q0,1.5 -1.5,1.5H860z" fill="#2962ff"/>
<text x="879.0" y="59.3" class="axw">103.886</text>
<path d="M860,62H894.5q1.5,0 1.5,1.5V71.1q0,1.5 -1.5,1.5H860z" fill="#000"/>
<text x="879.0" y="70.1" class="axw">103.820</text>
<path d="M860,99.1H894.5q1.5,0 1.5,1.5V108.2q0,1.5 -1.5,1.5H860z" fill="#434343"/>
<text x="879.0" y="107.2" class="axw">103.455</text>
<path d="M860,109.7H894.5q1.5,0 1.5,1.5V119.1q0,1.5 -1.5,1.5H860z" fill="#2196f3"/>
<text x="879.0" y="118.0" class="axw">103.370</text>
<path d="M860,146.3H894.5q1.5,0 1.5,1.5V156.1q0,1.5 -1.5,1.5H860z" fill="#000"/>
<text x="879.0" y="154.8" class="axw">102.992</text>
<path d="M860,165.3H894.5q1.5,0 1.5,1.5V174.3q0,1.5 -1.5,1.5H860z" fill="#4caf50"/>
<text x="879.0" y="173.4" class="axw">102.810</text>
<path d="M860,195.5H894.5q1.5,0 1.5,1.5V204.5q0,1.5 -1.5,1.5H860z" fill="#ee3e3e"/>
<text x="879.0" y="203.6" class="axw">102.516</text>
<path d="M860,347.2H894.5q1.5,0 1.5,1.5V355.9q0,1.5 -1.5,1.5H860z" fill="#000"/>
<text x="879.0" y="355.1" class="axw">101.035</text>
<path d="M860,471H890.1q1.5,0 1.5,1.5V480.1q0,1.5 -1.5,1.5H860z" fill="#2962ff"/>
<text x="876.8" y="479.1" class="axw">99.818</text>
<path d="M859.5,0V548" stroke="#dadada" stroke-width="1"/>
<rect x="867.3" y="5.6" width="23" height="10.4" rx="1.5" fill="#fff" stroke="#dedede" stroke-width="0.7"/>
<text x="877.3" y="13.9" class="usd" textLength="14" lengthAdjust="spacingAndGlyphs">USD</text><path d="M885.6,10.2l1.3,1.3l1.3,-1.3" stroke="#666" stroke-width="0.9" fill="none"/>
<rect x="0" y="548" width="900" height="21" fill="#fff"/>
<rect x="257.5" y="548" width="235.7" height="17" fill="#ccd7f9"/>
<text x="22.5" y="558.8" class="tx">14</text>
<text x="111.5" y="558.8" class="tx">18</text>
<text x="200.5" y="558.8" class="tx">20</text>
<text x="333.5" y="558.8" class="tx">25</text>
<text x="422.7" y="558.8" class="tx">27</text>
<text x="600.5" y="558.8" class="tx">3</text>
<text x="688.5" y="558.8" class="tx">5</text>
<text x="782.5" y="558.8" class="tx">9</text>
<text x="550.5" y="558.8" class="tx" style="font-weight:bold">May</text>
<rect x="223" y="548" width="70" height="14.3" fill="#2962ff"/>
<text x="258" y="558.6" class="txw">21 Apr '22 &#160; 07:00</text>
<rect x="458.2" y="548" width="70.5" height="14.3" fill="#2962ff"/>
<text x="493.5" y="558.6" class="txw">28 Apr '22 &#160; 14:00</text>
<path d="M0,548.3H899M859.5,548V565.5M0,565.5H899" stroke="#dadada" stroke-width="1" fill="none"/>
<path d="M1.6,0V566M898.8,0V566" stroke="#e3e3e3" stroke-width="1.6"/>
<rect x="0" y="0" width="900" height="1.2" fill="#dcdfe0"/>
<circle cx="878.5" cy="556.1" r="2.9" fill="none" stroke="#333" stroke-width="1.1"/><path d="M881.70,556.10L882.90,556.10M880.76,558.36L881.61,559.21M878.50,559.30L878.50,560.50M876.24,558.36L875.39,559.21M875.30,556.10L874.10,556.10M876.24,553.84L875.39,552.99M878.50,552.90L878.50,551.70M880.76,553.84L881.61,552.99" stroke="#333" stroke-width="1.3" stroke-linecap="round"/>
<rect x="240" y="4" width="149" height="12" fill="#fff" fill-opacity="0.75"/>
<text x="387.5" y="13.6" class="ohlc" text-anchor="end" textLength="146.5" lengthAdjust="spacingAndGlyphs"><tspan fill="#555">H</tspan>102.517 <tspan fill="#555">L</tspan>102.511 <tspan fill="#555">C</tspan>102.516 +0.002 (+0.00%)</text>
<rect x="5.5" y="4" width="243.5" height="12.4" rx="2" fill="#fff" stroke="#e3e3e3" stroke-width="0.8"/>
<text x="8" y="12.8" class="ttl" textLength="102" lengthAdjust="spacingAndGlyphs">U.S. Dollar Currency Index</text>
<text x="114" y="12.8" class="ttl sep" text-anchor="middle">·</text><text x="117.6" y="12.8" class="ttl" textLength="8.6" lengthAdjust="spacingAndGlyphs">1h</text>
<text x="130" y="12.8" class="ttl sep" text-anchor="middle">·</text><text x="133.6" y="12.8" class="ttl" textLength="14" lengthAdjust="spacingAndGlyphs">TVC</text>
<text x="151.2" y="12.8" class="ttl sep" text-anchor="middle">·</text><text x="154.7" y="12.8" class="ttl" textLength="47" lengthAdjust="spacingAndGlyphs">TradingView</text>
<rect x="196" y="4.5" width="10" height="11.5" fill="url(#fade)"/>
<path d="M208,7.3H214.7L212.4,10.5L214.7,13.7H208Z" fill="#b8b9c2"/>
<path d="M222.2,10.3Q226.7,4.6 231.2,10.3Q226.7,16 222.2,10.3Z" fill="none" stroke="#444" stroke-width="0.9"/><circle cx="226.7" cy="10.3" r="1.5" fill="none" stroke="#444" stroke-width="0.9"/>
<circle cx="238.8" cy="10.3" r="1.1" fill="#444"/><circle cx="242.2" cy="10.3" r="1.1" fill="#444"/><circle cx="245.6" cy="10.3" r="1.1" fill="#444"/>
<rect x="8.6" y="17.5" width="15.2" height="11.6" rx="1.5" fill="#fff" stroke="#e3e3e3" stroke-width="0.8"/>
<path d="M11.2,22.6l1.9,1.7l1.9,-1.7" stroke="#333" stroke-width="1.1" fill="none"/><text x="17.6" y="25.6" style="font:7.2px Liberation Sans,Arial,sans-serif;fill:#333">3</text>
<rect x="489" y="-10" width="250" height="14" rx="3" fill="#fff" stroke="#e0e0e0" stroke-width="0.8"/>
<rect x="763" y="-10" width="136" height="11.5" rx="3" fill="#fff" stroke="#d0d0d0" stroke-width="0.8"/>
</svg>
</body></html>
